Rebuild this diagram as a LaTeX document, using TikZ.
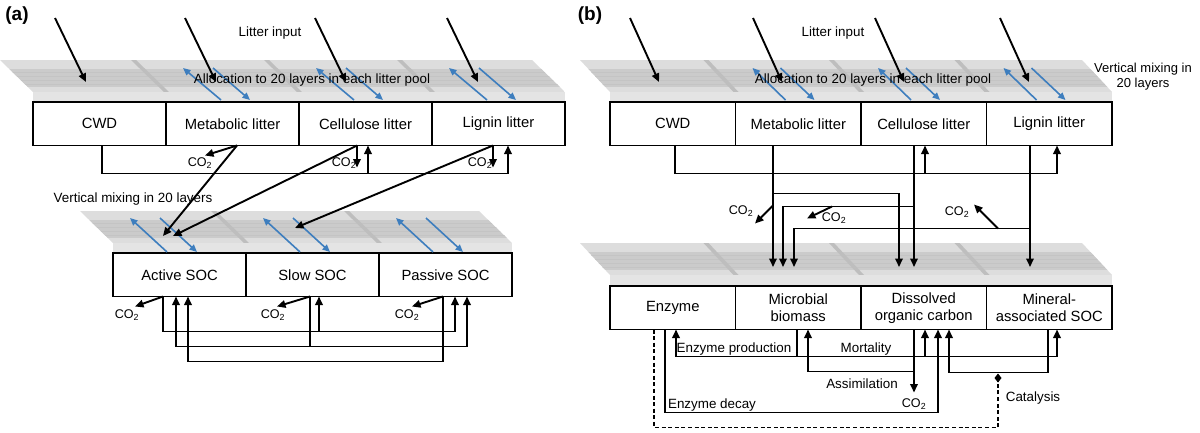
\documentclass[tikz,border=0pt]{standalone}
\usepackage{fontspec}
\setmainfont{Liberation Sans}
\usetikzlibrary{arrows.meta,calc}
\definecolor{slabL}{RGB}{221,221,221}
\definecolor{slabD}{RGB}{203,203,203}
\definecolor{slabS}{RGB}{196,196,196}
\definecolor{slabF}{RGB}{228,228,228}
\definecolor{slabV}{RGB}{190,190,190}
\definecolor{mixblue}{RGB}{62,126,190}
\newcommand\mkslab[5]{%
  \begin{scope}
    \clip (#1-#4,#2) -- (#1+#3-#4,#2) -- (#1+#3,#2+32) -- (#1,#2+32) -- cycle;
    \fill[slabL] (#1-#4,#2) rectangle (#1+#3,#2+32);
    \fill[slabD] (#1-#4,#2+9) rectangle (#1+#3,#2+27);
    \foreach \kk in {12,16,...,24} {\draw[slabS,line width=0.5pt] (#1-#4,#2+\kk) -- (#1+#3,#2+\kk);}
    \foreach \dx in {#5} {\fill[slabV] (\dx-#4-2,#2) -- (\dx-#4+3,#2) -- (\dx+3,#2+32) -- (\dx-2,#2+32) -- cycle;}
  \end{scope}
  \fill[slabF] (#1,#2+32) rectangle (#1+#3,#2+42);
}
\begin{document}
\begin{tikzpicture}[x=1pt,y=-1pt,
  box/.style={draw, line width=1.9pt, fill=white, anchor=north west, inner sep=0pt, outer sep=0pt,
    minimum height=43.5pt, font=\fontsize{14.8}{17}\selectfont, align=center},
  boxa/.style={box, minimum width=133pt},
  boxb/.style={box, minimum width=125.5pt},
  arr/.style={draw, line width=1.9pt, -{Triangle[length=8.5pt,width=7.5pt]}},
  ln/.style={draw, line width=1.9pt},
  dash line/.style={draw, line width=1.9pt, dash pattern=on 4pt off 2.6pt, -{Diamond[length=9pt,width=7pt]}},
  blu/.style={draw=mixblue, line width=1.6pt, -{Triangle[length=7.5pt,width=6.5pt]}},
  lbl/.style={font=\fontsize{13.4}{15}\selectfont, inner sep=0pt},
  co/.style={font=\fontsize{12.6}{14}\selectfont, inner sep=0pt},
  panel/.style={font=\fontsize{19}{21}\selectfont\bfseries, inner sep=0pt}]
\useasboundingbox (0,0) rectangle (1200,432);

% ---------- slabs ----------
\mkslab{33}{60}{532}{33}{166,299,432}
\mkslab{113}{211}{399}{33}{246,379}
\mkslab{610}{60}{502}{30}{735.5,861,986.5}
\mkslab{610}{243}{502}{30}{735.5,861,986.5}

% ---------- boxes (a) ----------
\node[boxa] (cwdA) at (33,102) {CWD};
\node[boxa] (metA) at (166,102) {Metabolic litter};
\node[boxa] (celA) at (299,102) {Cellulose litter};
\node[boxa] (ligA) at (432,102) {Lignin litter};
\node[boxa] (actA) at (113,253) {Active SOC};
\node[boxa] (slwA) at (246,253) {Slow SOC};
\node[boxa] (pasA) at (379,253) {Passive SOC};

% ---------- boxes (b) ----------
\node[boxb] (cwdB) at (610,102) {CWD};
\node[boxb] (metB) at (735.5,102) {Metabolic litter};
\node[boxb] (celB) at (861,102) {Cellulose litter};
\node[boxb] (ligB) at (986.5,102) {Lignin litter};
\node[boxb] (enzB) at (610,286) {Enzyme};
\node[boxb] (micB) at (735.5,286) {Microbial\\biomass};
\node[boxb] (docB) at (861,286) {Dissolved\\organic carbon};
\node[boxb] (minB) at (986.5,286) {Mineral-\\associated SOC};

% ---------- vertical mixing (blue) ----------
\foreach \nn in {metA,celA,ligA} {
  \draw[blu] ($(\nn.north west)+(55,-2)$) -- ($(\nn.north west)+(17,-34)$);
  \draw[blu] ($(\nn.north west)+(47,-34)$) -- ($(\nn.north west)+(84,-2)$);}
\foreach \nn in {actA,slwA,pasA} {
  \draw[blu] ($(\nn.north west)+(54,-1)$) -- ($(\nn.north west)+(17,-35)$);
  \draw[blu] ($(\nn.north west)+(47,-35)$) -- ($(\nn.north west)+(84,-1)$);}
\foreach \nn in {metB,celB,ligB} {
  \draw[blu] ($(\nn.north west)+(50,-2)$) -- ($(\nn.north west)+(17,-34)$);
  \draw[blu] ($(\nn.north west)+(45,-34)$) -- ($(\nn.north west)+(79,-2)$);}

% ---------- texts ----------
\node[panel] (pa) at (17,16) {(a)};
\node[panel] (pb) at (590,16) {(b)};
\node[lbl] (liA) at (270,33) {Litter input};
\node[lbl] (alA) at (312,80) {Allocation to 20 layers in each litter pool};
\node[lbl] (vmA) at (133,199) {Vertical mixing in 20 layers};
\node[lbl] (liB) at (833,33) {Litter input};
\node[lbl] (alB) at (873,80) {Allocation to 20 layers in each litter pool};
\node[lbl, align=center, font=\fontsize{13}{15}\selectfont] (vmB) at (1143,77) {Vertical mixing in\\20 layers};

% ---------- litter input arrows ----------
\foreach \nn/\sx in {cwdA/22,metA/19,celA/16,ligA/15}
  \draw[arr] ($(\nn.north west)+(\sx,-84)$) -- ($(\nn.north west)+(\sx+31,-20)$);
\foreach \nn/\sx in {cwdB/20,metB/17.5,celB/14,ligB/13.5}
  \draw[arr] ($(\nn.north west)+(\sx,-84)$) -- ($(\nn.north west)+(\sx+29,-20)$);

% ---------- (a) litter flows ----------
\draw[arr] ($(cwdA.south west)+(69,0)$) -- ++(0,28) -| ($(ligA.south west)+(76,0)$);
\draw[arr] ($(celA.south west)+(69,28)$) -- ($(celA.south west)+(69,0)$);
\draw[arr] ($(metA.south west)+(71,0)$) -- ++(-32,10);
\draw[arr] ($(metA.south west)+(71,0)$) -- ($(actA.north west)+(50,-17)$);
\draw[arr] ($(celA.south west)+(58,0)$) -- ++(0,22);
\draw[arr] ($(celA.south west)+(58,0)$) -- ($(actA.north west)+(60,-17)$);
\draw[arr] ($(ligA.south west)+(61,0)$) -- ++(0,22);
\draw[arr] ($(ligA.south west)+(61,0)$) -- ($(slwA.north west)+(49,-25)$);
\node[co] (c1) at (200,163) {CO\textsubscript{2}};
\node[co] (c2) at (344,163) {CO\textsubscript{2}};
\node[co] (c3) at (480,163) {CO\textsubscript{2}};

% ---------- (a) SOC flows ----------
\draw[arr] ($(actA.south west)+(50,0)$) -- ++(-28,10);
\draw[arr] ($(actA.south west)+(50,0)$) -- ++(0,35) -| ($(pasA.south west)+(76,0)$);
\draw[arr] ($(slwA.south west)+(73,35)$) -- ($(slwA.south west)+(73,0)$);
\draw[arr] ($(slwA.south west)+(64,0)$) -- ++(-33,10);
\draw[ln] ($(slwA.south west)+(64,0)$) -- ++(0,50);
\draw[arr] ($(slwA.south west)+(64,50)$) -| ($(actA.south west)+(63,0)$);
\draw[arr] ($(slwA.south west)+(64,50)$) -| ($(pasA.south west)+(88,0)$);
\draw[arr] ($(pasA.south west)+(64,0)$) -- ++(-31,10);
\draw[arr] ($(pasA.south west)+(64,0)$) -- ++(0,65) -| ($(actA.south west)+(75,0)$);
\node[co] (c4) at (127,315) {CO\textsubscript{2}};
\node[co] (c5) at (273,315) {CO\textsubscript{2}};
\node[co] (c6) at (407,315) {CO\textsubscript{2}};

% ---------- (b) litter flows ----------
\draw[arr] ($(cwdB.south west)+(65,0)$) -- ++(0,28) -| ($(ligB.south west)+(70.5,0)$);
\draw[arr] ($(celB.south west)+(64,28)$) -- ($(celB.south west)+(64,0)$);
\draw[arr] ($(metB.south west)+(37.5,0)$) -- ($(micB.north west)+(37.5,-19)$);
\draw[arr] ($(metB.south west)+(37.5,48)$) -| ($(docB.north west)+(38,-19)$);
\draw[arr] ($(metB.south west)+(37.5,60)$) -- ++(-18,18);
\draw[arr] ($(celB.south west)+(53,0)$) -- ($(docB.north west)+(53,-19)$);
\draw[arr] ($(celB.south west)+(53,61)$) -| ($(micB.north west)+(47.5,-19)$);
\draw[arr] ($(celB.south west)+(-29,61)$) -- ++(-25,12);
\draw[arr] ($(ligB.south west)+(43.5,0)$) -- ($(minB.north west)+(43.5,-19)$);
\draw[arr] ($(ligB.south west)+(43.5,83)$) -| ($(micB.north west)+(58.5,-19)$);
\draw[arr] ($(ligB.south west)+(11.5,83)$) -- ++(-24,-24);
\node[co] (c7) at (741,211) {CO\textsubscript{2}};
\node[co] (c8) at (834,218) {CO\textsubscript{2}};
\node[co] (c9) at (957,212) {CO\textsubscript{2}};

% ---------- (b) soil flows ----------
\draw[dash line] ($(enzB.south west)+(44,0)$) -- ++(0,98) -| ($(minB.south west)+(11.5,44)$);
\draw[arr] ($(enzB.south west)+(55,0)$) -- ++(0,83) -| ($(docB.south west)+(77,0)$);
\draw[ln] ($(micB.south west)+(61.5,0)$) -- ++(0,27);
\draw[arr] ($(micB.south west)+(61.5,27)$) -| ($(enzB.south west)+(66,0)$);
\draw[arr] ($(micB.south west)+(61.5,27)$) -| ($(minB.south west)+(70.5,0)$);
\draw[arr] ($(docB.south west)+(64,27)$) -- ($(docB.south west)+(64,0)$);
\draw[arr] ($(docB.south west)+(53,0)$) -- ++(0,63);
\draw[arr] ($(docB.south west)+(53,42)$) -| ($(micB.south west)+(72.5,0)$);
\draw[arr] ($(minB.south west)+(61.5,0)$) -- ++(0,43) -| ($(docB.south west)+(88,0)$);
\node[co] (c10) at (914,404) {CO\textsubscript{2}};
\node[lbl] (ep) at (734,349) {Enzyme production};
\node[lbl] (mo) at (866,349) {Mortality};
\node[lbl] (as) at (862,384) {Assimilation};
\node[lbl] (ed) at (712,405) {Enzyme decay};
\node[lbl] (ca) at (1033,398) {Catalysis};
\end{tikzpicture}
\end{document}
